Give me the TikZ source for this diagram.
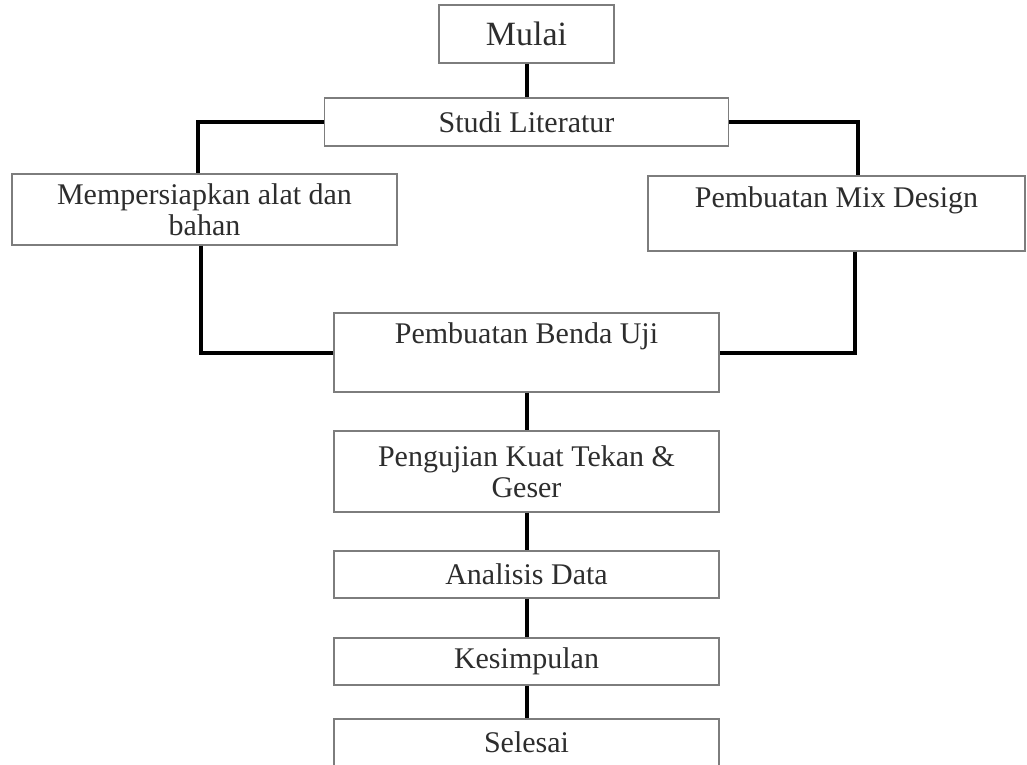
\documentclass[tikz,border=0pt]{standalone}
\usepackage{fontspec}
\setmainfont{Liberation Serif}
\usetikzlibrary{positioning}
\definecolor{boxgray}{RGB}{125,125,125}
\definecolor{textgray}{RGB}{45,45,45}
\tikzstyle{block} = [rectangle, draw=boxgray, line width=1.4pt, text=textgray, inner sep=0pt, align=center, font=\fontsize{30}{31}\selectfont]
\tikzstyle{line} = [draw, line width=4pt]

\begin{document}
\begin{tikzpicture}[x=1pt, y=1pt, node distance=88pt]
    \useasboundingbox (0,0) rectangle (1027,-764);
    \clip (0,0) rectangle (1027,-764);
    % Place nodes
    \node [block, minimum width=175pt, minimum height=58pt, font=\fontsize{34}{36}\selectfont] (mulai) at (526.5,-34) {Mulai};
    \node [block, node distance=88pt, below of=mulai, minimum width=404pt, minimum height=48pt] (studi) {Studi Literatur};
    \node [block, minimum width=385pt, minimum height=71pt] (siap) at (204.5,-209.5) {Mempersiapkan alat dan\\bahan};
    \node [block, minimum width=377pt, text height=31pt, text depth=44pt] (mix) at (836.5,-213.5) {Pembuatan Mix Design};
    \node [block, node distance=230.5pt, below of=studi, minimum width=385pt, text height=30pt, text depth=49pt] (benda) {Pembuatan Benda Uji};
    \node [block, node distance=119pt, below of=benda, minimum width=385pt, minimum height=81pt] (uji) {Pengujian Kuat Tekan \&\\Geser};
    \node [block, node distance=103pt, below of=uji, minimum width=385pt, minimum height=47pt] (analisis) {Analisis Data};
    \node [block, node distance=87pt, below of=analisis, minimum width=385pt, minimum height=47pt] (simpulan) {Kesimpulan};
    \node [block, node distance=81pt, below of=simpulan, minimum width=385pt, minimum height=47pt] (selesai) {Selesai};
    % Draw edges
    \path [line] (mulai) -- (studi);
    \path [line] (studi.west) -| ([xshift=-7pt]siap.north);
    \path [line] (studi.east) -| ([xshift=21pt]mix.north);
    \path [line] ([xshift=-4pt]siap.south) |- (benda.west);
    \path [line] ([xshift=18pt]mix.south) |- (benda.east);
    \path [line] (benda) -- (uji);
    \path [line] (uji) -- (analisis);
    \path [line] (analisis) -- (simpulan);
    \path [line] (simpulan) -- (selesai);
\end{tikzpicture}
\end{document}
